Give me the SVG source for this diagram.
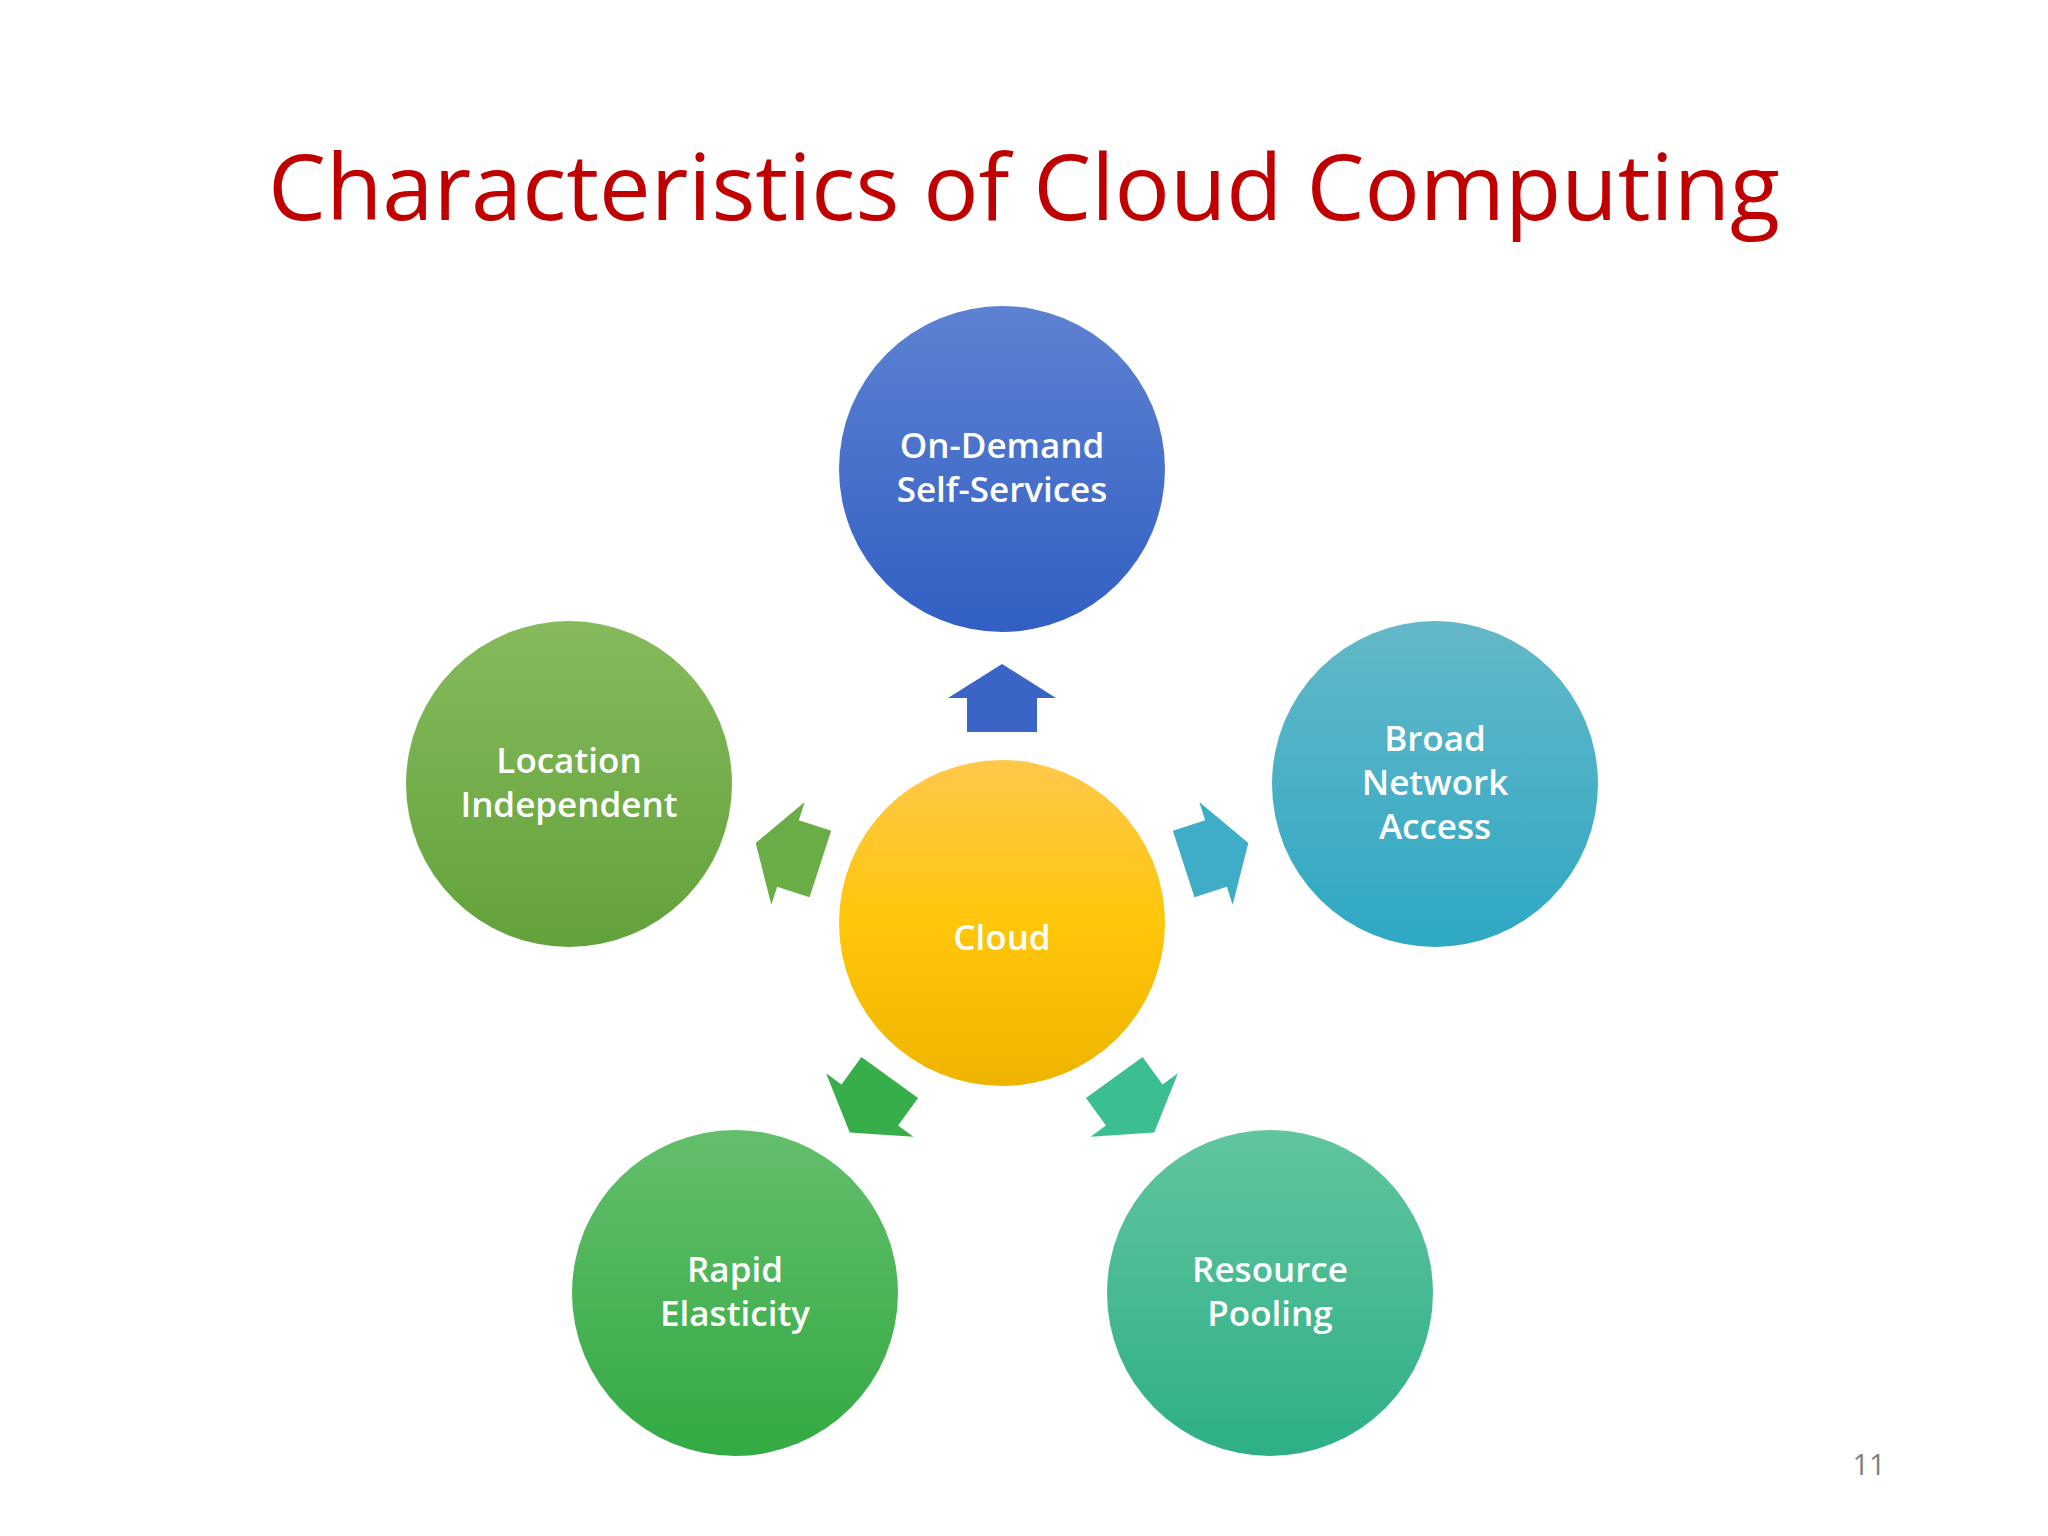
<svg xmlns="http://www.w3.org/2000/svg" width="2048" height="1536" viewBox="0 0 2048 1536">
<style>
.t{font-family:"Open Sans","Noto Sans",sans-serif;font-weight:600;fill:#fff;font-size:35px;text-anchor:middle}
</style>
<defs>
<linearGradient id="gb" x1="0" y1="0" x2="0" y2="1"><stop offset="0" stop-color="#5e82d2"/><stop offset="1" stop-color="#315fc3"/></linearGradient>
<linearGradient id="gl" x1="0" y1="0" x2="0" y2="1"><stop offset="0" stop-color="#86ba5c"/><stop offset="1" stop-color="#62a23a"/></linearGradient>
<linearGradient id="gr" x1="0" y1="0" x2="0" y2="1"><stop offset="0" stop-color="#64b8c8"/><stop offset="1" stop-color="#2ea8c3"/></linearGradient>
<linearGradient id="gbl" x1="0" y1="0" x2="0" y2="1"><stop offset="0" stop-color="#64be6c"/><stop offset="1" stop-color="#32aa42"/></linearGradient>
<linearGradient id="gbr" x1="0" y1="0" x2="0" y2="1"><stop offset="0" stop-color="#61c59e"/><stop offset="1" stop-color="#2daf86"/></linearGradient>
<linearGradient id="gc" x1="0" y1="0" x2="0" y2="1"><stop offset="0" stop-color="#ffc84a"/><stop offset="0.5" stop-color="#ffc60a"/><stop offset="1" stop-color="#eeb400"/></linearGradient>
<polygon id="arr" points="-54,-225 0,-259 54,-225 35,-225 35,-191 -35,-191 -35,-225"/>
</defs>
<rect width="2048" height="1536" fill="#fff"/>
<text x="1024" y="220" font-family="Open Sans, Noto Sans, sans-serif" font-size="92" fill="#c00000" text-anchor="middle">Characteristics of Cloud Computing</text>
<g id="connectors">
<use href="#arr" transform="translate(1002,923)" fill="#3a64c6"/>
<use href="#arr" transform="translate(1002,923) rotate(72)" fill="#40adc8"/>
<use href="#arr" transform="translate(1002,923) rotate(144)" fill="#3cbf90"/>
<use href="#arr" transform="translate(1002,923) rotate(216)" fill="#38ae4a"/>
<use href="#arr" transform="translate(1002,923) rotate(288)" fill="#6aac45"/>
</g>
<g id="cloud"><circle cx="1002" cy="923" r="163" fill="url(#gc)"/><text class="t" x="1002" y="950" font-size="82" font-weight="700">Cloud</text></g>
<g id="ondemand"><circle cx="1002" cy="469" r="163" fill="url(#gb)"/><text class="t" x="1002" y="458">On-Demand</text><text class="t" x="1002" y="502">Self-Services</text></g>
<g id="location"><circle cx="569" cy="784" r="163" fill="url(#gl)"/><text class="t" x="569" y="773">Location</text><text class="t" x="569" y="817">Independent</text></g>
<g id="broad"><circle cx="1435" cy="784" r="163" fill="url(#gr)"/><text class="t" x="1435" y="751">Broad</text><text class="t" x="1435" y="795">Network</text><text class="t" x="1435" y="839">Access</text></g>
<g id="rapid"><circle cx="735" cy="1293" r="163" fill="url(#gbl)"/><text class="t" x="735" y="1282">Rapid</text><text class="t" x="735" y="1326">Elasticity</text></g>
<g id="resource"><circle cx="1270" cy="1293" r="163" fill="url(#gbr)"/><text class="t" x="1270" y="1282">Resource</text><text class="t" x="1270" y="1326">Pooling</text></g>
<text x="1869" y="1475" font-family="Open Sans, sans-serif" font-size="29" fill="#808080" text-anchor="middle">11</text>
</svg>
